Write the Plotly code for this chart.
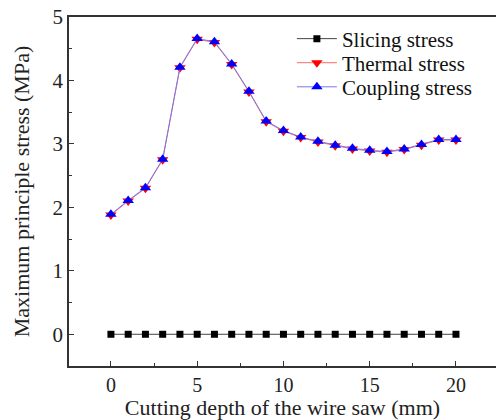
import plotly.graph_objects as go

depth = list(range(0, 21))
slicing = [0.0] * 21
thermal = [1.88, 2.10, 2.30, 2.75, 4.20, 4.65, 4.60, 4.25, 3.82, 3.35, 3.20,
           3.10, 3.03, 2.97, 2.92, 2.89, 2.87, 2.91, 2.98, 3.06, 3.06]
coupling = [1.89, 2.11, 2.31, 2.76, 4.21, 4.66, 4.61, 4.26, 3.83, 3.36, 3.21,
            3.11, 3.04, 2.98, 2.93, 2.90, 2.88, 2.92, 2.99, 3.07, 3.07]
series_names = ["Slicing stress", "Thermal stress", "Coupling stress"]

font_family = "Liberation Serif"

fig = go.Figure()
fig.add_trace(go.Scatter(
    x=depth, y=slicing, name=series_names[0], mode="lines+markers",
    line=dict(color="#444444", width=1), legend="legend",
    marker=dict(symbol="square", size=7, color="black")))
fig.add_trace(go.Scatter(
    x=depth, y=thermal, name=series_names[1], mode="lines+markers",
    line=dict(color="#ff6666", width=1), legend="legend2",
    marker=dict(symbol="triangle-down", size=10, color="red")))
fig.add_trace(go.Scatter(
    x=depth, y=coupling, name=series_names[2], mode="lines+markers",
    line=dict(color="#7777ee", width=1), legend="legend3",
    marker=dict(symbol="triangle-up", size=10, color="blue")))

def leg(ypos):
    return dict(x=0.522, y=ypos, xanchor="left", yanchor="middle",
                bgcolor="rgba(0,0,0,0)", font=dict(size=21, color="#111111"),
                itemwidth=40)

fig.update_layout(
    width=496, height=420,
    margin=dict(l=69, r=0, t=17, b=54),
    paper_bgcolor="white", plot_bgcolor="white",
    font=dict(family=font_family, size=22, color="#222222"),
    showlegend=True,
    legend=leg(0.937),
    legend2=leg(0.868),
    legend3=leg(0.799),
    xaxis=dict(
        range=[-2.43, 22.32], tickmode="array", tickvals=[0, 5, 10, 15, 20],
        showgrid=False, zeroline=False, showline=True, linecolor="#333333",
        linewidth=1.5, mirror=True, ticks="inside", ticklen=5, tickcolor="#333333",
        minor=dict(tickvals=[2.5, 7.5, 12.5, 17.5], ticks="inside", ticklen=3, tickcolor="#333333"),
        tickfont=dict(size=20),
        title=dict(text="Cutting depth of the wire saw (mm)", font=dict(size=22), standoff=7),
    ),
    yaxis=dict(
        range=[-0.5, 5.0], tickmode="array", tickvals=[0, 1, 2, 3, 4, 5],
        showgrid=False, zeroline=False, showline=True, linecolor="#333333",
        linewidth=1.5, ticks="inside", ticklen=5, tickcolor="#333333",
        minor=dict(tickvals=[-0.5, 0.5, 1.5, 2.5, 3.5, 4.5], ticks="inside", ticklen=3, tickcolor="#333333"),
        tickfont=dict(size=21),
        title=dict(text="Maximum principle stress (MPa)", font=dict(size=22), standoff=17),
    ),
)

fig.write_html("out.html")
